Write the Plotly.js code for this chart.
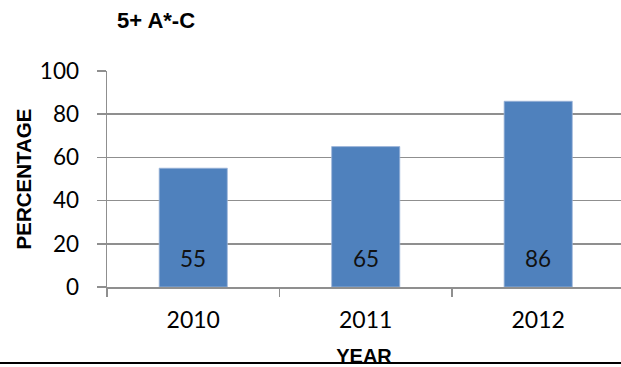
<!DOCTYPE html>
<html>
<head>
<meta charset="utf-8">
<script src="https://cdn.plot.ly/plotly-3.0.1.min.js"></script>
<style>
  html, body { margin: 0; padding: 0; background: #ffffff; }
  #wrap { position: relative; width: 621px; height: 367px; overflow: hidden; }
  #chart { width: 621px; height: 367px; }
  /* rule under the chart, with a thin white strip below it */
  #rule { position: absolute; left: 0; top: 362px; width: 621px; height: 5px;
          background: #ffffff; border-top: 2.5px solid #000000; box-sizing: border-box; }
</style>
</head>
<body>
<div id="wrap">
  <div id="chart"></div>
  <div id="rule"></div>
</div>
<script>
// Share of pupils achieving 5+ A*-C grades, by year
const years = ['2010', '2011', '2012'];
const percentages = [55, 65, 86];
const yTicks = [0, 20, 40, 60, 80, 100];

const gray = '#8f8f8f';
const numberFont = 'Lato, "Liberation Sans", Arial, sans-serif';
const labelFont = '"Liberation Sans", Arial, sans-serif';

const trace = {
  type: 'bar',
  x: years,
  y: percentages,
  width: 0.395,
  marker: { color: '#4f81bd', line: { color: '#9db5d9', width: 0.8 } },
  hoverinfo: 'skip'
};

// value labels sit near the base of each bar (x given as category index)
const valueLabels = percentages.map((v, i) => ({
  x: i,
  y: 0,
  xref: 'x',
  yref: 'y',
  yanchor: 'bottom',
  yshift: 13,
  text: String(v),
  showarrow: false,
  font: { family: numberFont, size: 22.5, color: '#111111' }
}));

const layout = {
  width: 621,
  height: 367,
  margin: { l: 107, r: 0, t: 71, b: 80 },
  paper_bgcolor: '#ffffff',
  plot_bgcolor: '#ffffff',
  showlegend: false,
  title: {
    text: '<b>5+ A*-C</b>',
    font: { family: labelFont, size: 22, color: '#000000' },
    xref: 'container', yref: 'container',
    x: 117 / 621, xanchor: 'left',
    y: 1 - 20 / 367, yanchor: 'middle'
  },
  xaxis: {
    type: 'category',
    range: [-0.5, 2.48],
    tickson: 'boundaries',
    ticks: 'outside',
    ticklen: 8,
    tickwidth: 1.5,
    tickcolor: gray,
    showline: true,
    linecolor: gray,
    linewidth: 1.5,
    showgrid: false,
    zeroline: false,
    ticklabelstandoff: 12,
    tickfont: { family: numberFont, size: 23, color: '#000000' },
    title: {
      text: '<b>YEAR</b>',
      font: { family: labelFont, size: 20, color: '#000000' },
      standoff: 21
    },
    fixedrange: true
  },
  yaxis: {
    range: [0, 100],
    tickvals: yTicks,
    ticks: 'outside',
    ticklen: 9,
    tickwidth: 1.5,
    tickcolor: gray,
    showline: true,
    linecolor: gray,
    linewidth: 1.5,
    showgrid: true,
    gridcolor: gray,
    gridwidth: 1.5,
    zeroline: false,
    ticklabelstandoff: 13,
    tickfont: { family: numberFont, size: 22.5, color: '#000000' },
    title: {
      text: '<b>PERCENTAGE</b>',
      font: { family: labelFont, size: 20.5, color: '#000000' },
      standoff: 2
    },
    fixedrange: true
  },
  annotations: valueLabels
};

Plotly.newPlot('chart', [trace], layout, { displayModeBar: false, staticPlot: true });
</script>
</body>
</html>
